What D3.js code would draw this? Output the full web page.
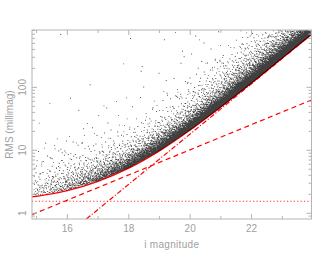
<!DOCTYPE html>
<html>
<head>
<meta charset="utf-8">
<script src="https://cdn.jsdelivr.net/npm/d3@7"></script>
<style>
  body { margin: 0; background: #fff; }
  text { font-family: "Liberation Sans", Arial, sans-serif; fill: #a0a0a0; }
</style>
</head>
<body>
<div id="chart"></div>
<script>
// Basic setup
var width = 330,
    height = 254,
    margin = {top: 30, right: 18.5, bottom: 35, left: 32};

// Noise model lines (i mag, RMS in millimag)
var floorRms = 1.55;
var sourceLine = [[14.85, 0.95], [23.95, 63]];
var skyLine = [[16.62, 0.81], [23.95, 690]];
var totalMag = [14.85, 15, 16, 17, 18, 19, 20, 21, 22, 23, 23.95];
var totalRms = [1.82, 1.86, 2.28, 3.21, 5.2, 9.8, 21, 48.7, 117, 293, 693];

// Star cloud, per 0.5 mag bin: start mag, star count, core spread and tail spread (dex)
var binStart = [14.9, 15.4, 15.9, 16.4, 16.9, 17.4, 17.9, 18.4, 18.9, 19.4, 19.9, 20.4, 20.9, 21.4, 21.9, 22.4, 22.9, 23.4];
var binCount = [75, 110, 150, 200, 260, 330, 420, 540, 680, 850, 1050, 1280, 1500, 1750, 1950, 2150, 2250, 2250];
var coreDex = [0.2, 0.18, 0.16, 0.14, 0.12, 0.1, 0.09, 0.08, 0.07, 0.06, 0.055, 0.05, 0.045, 0.042, 0.04, 0.038, 0.036, 0.034];
var tailDex = [0.35, 0.33, 0.3, 0.28, 0.26, 0.24, 0.22, 0.21, 0.2, 0.2, 0.2, 0.19, 0.18, 0.18, 0.17, 0.16, 0.15, 0.12];
var tailFrac = 0.25, outlierFrac = 0.005;

// Ticks
var xTicks = [16, 18, 20, 22];
var yTicks = [1, 10, 100];

var svg = d3.select("#chart").append("svg")
    .attr("width", width)
    .attr("height", height);

var x = d3.scaleLinear()
    .domain([14.85, 23.95])
    .range([margin.left, width - margin.right]);

var y = d3.scaleLog()
    .domain([0.81, 815])
    .range([height - margin.bottom, margin.top]);

svg.append("clipPath").attr("id", "clip")
  .append("rect")
    .attr("x", x.range()[0]).attr("y", y.range()[1])
    .attr("width", x.range()[1] - x.range()[0])
    .attr("height", y.range()[0] - y.range()[1]);

var plot = svg.append("g").attr("clip-path", "url(#clip)");

// total curve in log space, used as the lower edge of the cloud
var curveLog = d3.scaleLinear()
    .domain(totalMag)
    .range(totalRms.map(Math.log10));

// deterministic spread of stars inside each bin (Halton sequence)
function halton(i, b) {
  var f = 1, r = 0;
  while (i > 0) { f /= b; r += f * (i % b); i = Math.floor(i / b); }
  return r;
}

var pts = [];
var k = 1;
binStart.forEach(function(m0, bi) {
  for (var j = 0; j < binCount[bi]; j++, k++) {
    var u = halton(k, 2), v = halton(k, 3), w = halton(k, 5);
    var m = m0 + u * 0.5;
    if (m > 23.95) continue;
    var base = curveLog(m), d;
    if (w < outlierFrac) {
      d = v * (3 - base);
    } else {
      var s = w < outlierFrac + tailFrac ? tailDex[bi] : coreDex[bi];
      d = 0.018 + s * -Math.log(1 - v * 0.999);
    }
    pts.push([m, Math.pow(10, base + d)]);
  }
});

// model lines
var line = d3.line()
    .x(function(d) { return x(d[0]); })
    .y(function(d) { return y(d[1]); });

plot.append("path")
    .datum([[14.85, floorRms], [23.95, floorRms]])
    .attr("d", line)
    .attr("fill", "none").attr("stroke", "#ff3030").attr("stroke-width", 1.1)
    .attr("stroke-dasharray", "1.2,2.2");

plot.append("path")
    .datum(sourceLine)
    .attr("d", line)
    .attr("fill", "none").attr("stroke", "#f00").attr("stroke-width", 1.2)
    .attr("stroke-dasharray", "5,3.5");

plot.append("path")
    .datum(skyLine)
    .attr("d", line)
    .attr("fill", "none").attr("stroke", "#f00").attr("stroke-width", 1.2)
    .attr("stroke-dasharray", "5,2,1,2");

plot.append("path")
    .datum(d3.zip(totalMag, totalRms))
    .attr("d", line.curve(d3.curveMonotoneX))
    .attr("fill", "none").attr("stroke", "#f00").attr("stroke-width", 1.3);

// stars on top of the model curves
plot.append("path")
    .attr("fill", "#000")
    .attr("fill-opacity", 0.75)
    .attr("d", pts.map(function(p) {
      return "M" + x(p[0]).toFixed(2) + "," + y(p[1]).toFixed(2) + "h0.9v0.9h-0.9z";
    }).join(""));

// Frame and ticks (all four sides, pointing inward)
var axisColor = "#b4b4b4";
var x0 = x.range()[0], x1 = x.range()[1], y0 = y.range()[0], y1 = y.range()[1];

svg.append("rect")
    .attr("x", x0).attr("y", y1)
    .attr("width", x1 - x0).attr("height", y0 - y1)
    .attr("fill", "none").attr("stroke", axisColor).attr("stroke-width", 1);

var ticks = svg.append("g").attr("stroke", axisColor).attr("stroke-width", 1);

d3.range(15, 24).forEach(function(t) {
  var len = t % 2 === 0 ? 5 : 3;
  ticks.append("line").attr("x1", x(t)).attr("x2", x(t)).attr("y1", y0).attr("y2", y0 - len);
  ticks.append("line").attr("x1", x(t)).attr("x2", x(t)).attr("y1", y1).attr("y2", y1 + len);
});

y.ticks(10).filter(function(t) { return t >= 0.81 && t <= 815; }).forEach(function(t) {
  var major = yTicks.indexOf(t) >= 0;
  var len = major ? 5 : 3;
  ticks.append("line").attr("y1", y(t)).attr("y2", y(t)).attr("x1", x0).attr("x2", x0 + len);
  ticks.append("line").attr("y1", y(t)).attr("y2", y(t)).attr("x1", x1).attr("x2", x1 - len);
});

// Tick labels
svg.selectAll(".xlabel")
    .data(xTicks)
  .enter().append("text")
    .attr("x", function(d) { return x(d); })
    .attr("y", y0 + 13)
    .attr("text-anchor", "middle")
    .style("font-size", "10px")
    .text(function(d) { return d; });

svg.selectAll(".ylabel")
    .data(yTicks)
  .enter().append("text")
    .attr("transform", function(d) { return "translate(" + (x0 - 6) + "," + y(d) + ") rotate(-90)"; })
    .attr("text-anchor", "middle")
    .style("font-size", "10px")
    .text(function(d) { return d; });

// Axis titles
svg.append("text")
    .attr("x", (x0 + x1) / 2)
    .attr("y", 248)
    .attr("text-anchor", "middle")
    .style("font-size", "10px")
    .style("letter-spacing", "0.3px")
    .text("i magnitude");

svg.append("text")
    .attr("transform", "translate(13," + (y0 + y1) / 2 + ") rotate(-90)")
    .attr("text-anchor", "middle")
    .style("font-size", "10px")
    .text("RMS (millimag)");
</script>
</body>
</html>
